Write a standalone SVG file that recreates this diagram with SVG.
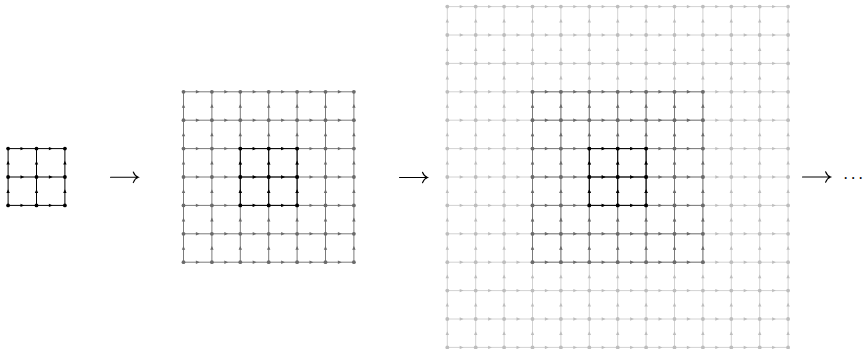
<svg xmlns="http://www.w3.org/2000/svg" xmlns:xlink="http://www.w3.org/1999/xlink" width="866" height="349" viewBox="0 0 866 349">
<style>
.ek{fill:none;stroke:#000;stroke-width:1;marker-mid:url(#ak)}
.nk{fill:none;stroke:none;marker-start:url(#dk);marker-mid:url(#dk);marker-end:url(#dk)}
.eg{fill:none;stroke:#7a7a7a;stroke-width:1;marker-mid:url(#ag)}
.ng{fill:none;stroke:none;marker-start:url(#dg);marker-mid:url(#dg);marker-end:url(#dg)}
.el{fill:none;stroke:#d2d2d2;stroke-width:1;marker-mid:url(#al)}
.nl{fill:none;stroke:none;marker-start:url(#dl);marker-mid:url(#dl);marker-end:url(#dl)}
.stage{fill:none;stroke:#000;stroke-width:1.1;stroke-linecap:round}
.dots{font-family:"Liberation Serif",serif;font-size:16px;fill:#000}
</style>
<defs>
<marker id="ak" markerUnits="userSpaceOnUse" viewBox="-4 -4 8 8" markerWidth="8" markerHeight="8" refX="0" refY="0" orient="auto"><path d="M-1.8,-1.7 L2,0 L-1.8,1.7 z" fill="#000"/></marker>
<marker id="ag" markerUnits="userSpaceOnUse" viewBox="-4 -4 8 8" markerWidth="8" markerHeight="8" refX="0" refY="0" orient="auto"><path d="M-1.8,-1.7 L2,0 L-1.8,1.7 z" fill="#6a6a6a"/></marker>
<marker id="al" markerUnits="userSpaceOnUse" viewBox="-4 -4 8 8" markerWidth="8" markerHeight="8" refX="0" refY="0" orient="auto"><path d="M-1.8,-1.7 L2,0 L-1.8,1.7 z" fill="#bdbdbd"/></marker>
<marker id="dk" markerUnits="userSpaceOnUse" viewBox="-4 -4 8 8" markerWidth="8" markerHeight="8" refX="0" refY="0"><circle r="1.9" fill="#000"/></marker>
<marker id="dg" markerUnits="userSpaceOnUse" viewBox="-4 -4 8 8" markerWidth="8" markerHeight="8" refX="0" refY="0"><circle r="1.9" fill="#6a6a6a"/></marker>
<marker id="dl" markerUnits="userSpaceOnUse" viewBox="-4 -4 8 8" markerWidth="8" markerHeight="8" refX="0" refY="0"><circle r="1.9" fill="#bdbdbd"/></marker>
<path id="h2" d="M0,0 H14.2 H42.6 H56.8"/>
<path id="h6" d="M0,0 H14.2 H42.6 H71 H99.4 H127.8 H156.2 H170.4"/>
<path id="h12" d="M0,0 H14.2 H42.6 H71 H99.4 H127.8 H156.2 H184.6 H213 H241.4 H269.8 H298.2 H326.6 H340.8"/>
<path id="n2" d="M0,0 H28.4 H56.8"/>
<path id="n6" d="M0,0 H28.4 H56.8 H85.2 H113.6 H142 H170.4"/>
<path id="n12" d="M0,0 H28.4 H56.8 H85.2 H113.6 H142 H170.4 H198.8 H227.2 H255.6 H284 H312.4 H340.8"/>
<g id="K3">
<g class="ek">
<use href="#h2"/><use href="#h2" y="28.4"/><use href="#h2" y="56.8"/>
<use href="#h2" transform="translate(0,56.8) rotate(-90)"/><use href="#h2" transform="translate(28.4,56.8) rotate(-90)"/><use href="#h2" transform="translate(56.8,56.8) rotate(-90)"/>
</g>
<g class="nk"><use href="#n2"/><use href="#n2" y="28.4"/><use href="#n2" y="56.8"/></g>
</g>
<g id="G7">
<g class="eg">
<use href="#h6"/><use href="#h6" y="28.4"/><use href="#h6" y="56.8"/><use href="#h6" y="85.2"/><use href="#h6" y="113.6"/><use href="#h6" y="142"/><use href="#h6" y="170.4"/>
<use href="#h6" transform="translate(0,170.4) rotate(-90)"/><use href="#h6" transform="translate(28.4,170.4) rotate(-90)"/><use href="#h6" transform="translate(56.8,170.4) rotate(-90)"/><use href="#h6" transform="translate(85.2,170.4) rotate(-90)"/><use href="#h6" transform="translate(113.6,170.4) rotate(-90)"/><use href="#h6" transform="translate(142,170.4) rotate(-90)"/><use href="#h6" transform="translate(170.4,170.4) rotate(-90)"/>
</g>
<g class="ng"><use href="#n6"/><use href="#n6" y="28.4"/><use href="#n6" y="56.8"/><use href="#n6" y="85.2"/><use href="#n6" y="113.6"/><use href="#n6" y="142"/><use href="#n6" y="170.4"/></g>
</g>
<g id="L13">
<g class="el">
<use href="#h12"/><use href="#h12" y="28.4"/><use href="#h12" y="56.8"/><use href="#h12" y="85.2"/><use href="#h12" y="113.6"/><use href="#h12" y="142"/><use href="#h12" y="170.4"/><use href="#h12" y="198.8"/><use href="#h12" y="227.2"/><use href="#h12" y="255.6"/><use href="#h12" y="284"/><use href="#h12" y="312.4"/><use href="#h12" y="340.8"/>
<use href="#h12" transform="translate(0,340.8) rotate(-90)"/><use href="#h12" transform="translate(28.4,340.8) rotate(-90)"/><use href="#h12" transform="translate(56.8,340.8) rotate(-90)"/><use href="#h12" transform="translate(85.2,340.8) rotate(-90)"/><use href="#h12" transform="translate(113.6,340.8) rotate(-90)"/><use href="#h12" transform="translate(142,340.8) rotate(-90)"/><use href="#h12" transform="translate(170.4,340.8) rotate(-90)"/><use href="#h12" transform="translate(198.8,340.8) rotate(-90)"/><use href="#h12" transform="translate(227.2,340.8) rotate(-90)"/><use href="#h12" transform="translate(255.6,340.8) rotate(-90)"/><use href="#h12" transform="translate(284,340.8) rotate(-90)"/><use href="#h12" transform="translate(312.4,340.8) rotate(-90)"/><use href="#h12" transform="translate(340.8,340.8) rotate(-90)"/>
</g>
<g class="nl"><use href="#n12"/><use href="#n12" y="28.4"/><use href="#n12" y="56.8"/><use href="#n12" y="85.2"/><use href="#n12" y="113.6"/><use href="#n12" y="142"/><use href="#n12" y="170.4"/><use href="#n12" y="198.8"/><use href="#n12" y="227.2"/><use href="#n12" y="255.6"/><use href="#n12" y="284"/><use href="#n12" y="312.4"/><use href="#n12" y="340.8"/></g>
</g>
</defs>
<g id="grid1">
<use href="#K3" x="8.1" y="148.6"/>
</g>
<g id="grid2">
<use href="#G7" x="183.5" y="91.8"/>
<use href="#K3" x="240.3" y="148.6"/>
</g>
<g id="grid3">
<use href="#L13" x="447.3" y="6.6"/>
<use href="#G7" x="532.5" y="91.8"/>
<use href="#K3" x="589.3" y="148.6"/>
</g>
<g id="connectors">
<path class="stage" d="M110.5,177.3 H138 M133.3,172 Q134.8,176 138.3,177.3 Q134.8,178.6 133.3,182.6"/>
<path class="stage" d="M399.5,177.5 H427.2 M422.5,172.2 Q424,176.2 427.5,177.5 Q424,178.8 422.5,182.8"/>
<path class="stage" d="M802.5,177 H830.3 M825.6,171.7 Q827.1,175.7 830.6,177 Q827.1,178.3 825.6,182.3"/>
</g>
<text class="dots" x="843 850.5 858" y="183.5">···</text>
</svg>
